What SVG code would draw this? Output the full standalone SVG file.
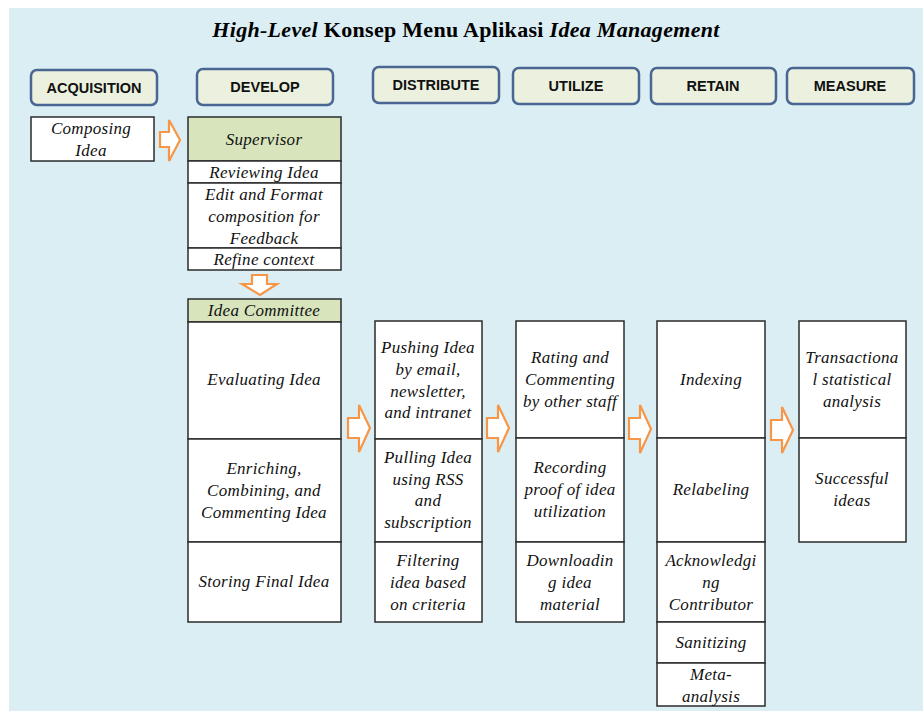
<svg xmlns="http://www.w3.org/2000/svg" width="923" height="711" viewBox="0 0 923 711">
<style>
.bg{fill:#dbeef4}
.hdr rect{fill:#ebf1de;stroke:#4a6794;stroke-width:2.5}
.hdr text{font-family:"Liberation Sans",Arial,sans-serif;font-weight:bold;font-size:14.5px;fill:#111;text-anchor:middle}
.box{fill:#fff;stroke:#2b2b2b;stroke-width:1.5}
.grn{fill:#d7e4bc;stroke:#2b2b2b;stroke-width:1.5}
.t{font-family:"Liberation Serif","Times New Roman",serif;font-style:italic;font-size:17px;letter-spacing:0.3px;fill:#111;text-anchor:middle}
.arr{fill:#fff;stroke:#f79646;stroke-width:2.2;stroke-linejoin:miter}
.title{font-family:"Liberation Serif","Times New Roman",serif;font-weight:bold;font-size:22px;letter-spacing:0.3px;fill:#000}
</style>
<rect x="0" y="0" width="923" height="711" fill="#fff"/>
<rect class="bg" x="9" y="8" width="914" height="703"/>
<text class="title" x="466" y="37" text-anchor="middle"><tspan font-style="italic">High-Level</tspan>  Konsep Menu Aplikasi <tspan font-style="italic">Idea Management</tspan></text>

<g id="hdr-acquisition" class="hdr"><rect x="31" y="70" width="126" height="35" rx="6"/><text x="94" y="93">ACQUISITION</text></g>
<g id="hdr-develop" class="hdr"><rect x="197" y="69" width="136" height="36" rx="6"/><text x="265" y="92">DEVELOP</text></g>
<g id="hdr-distribute" class="hdr"><rect x="373" y="67" width="126" height="36" rx="6"/><text x="436" y="90">DISTRIBUTE</text></g>
<g id="hdr-utilize" class="hdr"><rect x="513" y="68" width="126" height="36" rx="6"/><text x="576" y="91">UTILIZE</text></g>
<g id="hdr-retain" class="hdr"><rect x="651" y="68" width="125" height="36" rx="6"/><text x="713" y="91">RETAIN</text></g>
<g id="hdr-measure" class="hdr"><rect x="787" y="68" width="127" height="36" rx="6"/><text x="850" y="91">MEASURE</text></g>

<g id="acq-composing"><rect class="box" x="31" y="117" width="123" height="44"/><text class="t" x="91" y="134">Composing</text><text class="t" x="91" y="156">Idea</text></g>

<g id="dev-supervisor">
<rect class="grn" x="188" y="117" width="153" height="44"/><text class="t" x="264" y="145">Supervisor</text>
<rect class="box" x="188" y="161" width="153" height="22"/><text class="t" x="264" y="178">Reviewing Idea</text>
<rect class="box" x="188" y="183" width="153" height="65"/><text class="t" x="264" y="200">Edit and Format</text><text class="t" x="264" y="222">composition for</text><text class="t" x="264" y="244">Feedback</text>
<rect class="box" x="188" y="248" width="153" height="22"/><text class="t" x="264" y="265">Refine context</text>
</g>

<g id="dev-committee">
<rect class="grn" x="188" y="299" width="153" height="23"/><text class="t" x="264" y="316">Idea Committee</text>
<rect class="box" x="188" y="322" width="153" height="117"/><text class="t" x="264" y="385">Evaluating Idea</text>
<rect class="box" x="188" y="439" width="153" height="103"/><text class="t" x="264" y="474">Enriching,</text><text class="t" x="264" y="496">Combining, and</text><text class="t" x="264" y="518">Commenting Idea</text>
<rect class="box" x="188" y="542" width="153" height="80"/><text class="t" x="264" y="587">Storing Final Idea</text>
</g>

<g id="distribute">
<rect class="box" x="375" y="321" width="107" height="118"/><text class="t" x="428" y="353">Pushing Idea</text><text class="t" x="428" y="375">by email,</text><text class="t" x="428" y="397">newsletter,</text><text class="t" x="428" y="418">and intranet</text>
<rect class="box" x="375" y="439" width="107" height="103"/><text class="t" x="428" y="463">Pulling Idea</text><text class="t" x="428" y="485">using RSS</text><text class="t" x="428" y="506">and</text><text class="t" x="428" y="528">subscription</text>
<rect class="box" x="375" y="542" width="107" height="80"/><text class="t" x="428" y="566">Filtering</text><text class="t" x="428" y="588">idea based</text><text class="t" x="428" y="610">on criteria</text>
</g>

<g id="utilize">
<rect class="box" x="516" y="321" width="108" height="117"/><text class="t" x="570" y="363">Rating and</text><text class="t" x="570" y="385">Commenting</text><text class="t" x="570" y="407">by other staff</text>
<rect class="box" x="516" y="438" width="108" height="104"/><text class="t" x="570" y="473">Recording</text><text class="t" x="570" y="495">proof of idea</text><text class="t" x="570" y="517">utilization</text>
<rect class="box" x="516" y="542" width="108" height="80"/><text class="t" x="570" y="566">Downloadin</text><text class="t" x="570" y="588">g idea</text><text class="t" x="570" y="610">material</text>
</g>

<g id="retain">
<rect class="box" x="657" y="321" width="108" height="117"/><text class="t" x="711" y="385">Indexing</text>
<rect class="box" x="657" y="438" width="108" height="104"/><text class="t" x="711" y="495">Relabeling</text>
<rect class="box" x="657" y="542" width="108" height="80"/><text class="t" x="711" y="566">Acknowledgi</text><text class="t" x="711" y="588">ng</text><text class="t" x="711" y="610">Contributor</text>
<rect class="box" x="657" y="622" width="108" height="41"/><text class="t" x="711" y="648">Sanitizing</text>
<rect class="box" x="657" y="663" width="108" height="43"/><text class="t" x="711" y="680">Meta-</text><text class="t" x="711" y="702">analysis</text>
</g>

<g id="measure">
<rect class="box" x="799" y="321" width="107" height="117"/><text class="t" x="852" y="363">Transactiona</text><text class="t" x="852" y="385">l statistical</text><text class="t" x="852" y="407">analysis</text>
<rect class="box" x="799" y="438" width="107" height="104"/><text class="t" x="852" y="484">Successful</text><text class="t" x="852" y="506">ideas</text>
</g>

<g id="connectors">
<path class="arr" d="M160,132 H169 V120 L180,140 L169,161 V147 H160 Z"/>
<path class="arr" d="M252,275 H267 V284 H277 L260,295 L242,284 H252 Z"/>
<path class="arr" d="M348,418 H359 V405 L370,428 L359,452 V438 H348 Z"/>
<path class="arr" d="M487,418 H498 V405 L509,428 L498,452 V438 H487 Z"/>
<path class="arr" d="M629,418 H640 V405 L651,429 L640,453 V439 H629 Z"/>
<path class="arr" d="M771,420 H782 V407 L793,430 L782,453 V440 H771 Z"/>
</g>
</svg>
